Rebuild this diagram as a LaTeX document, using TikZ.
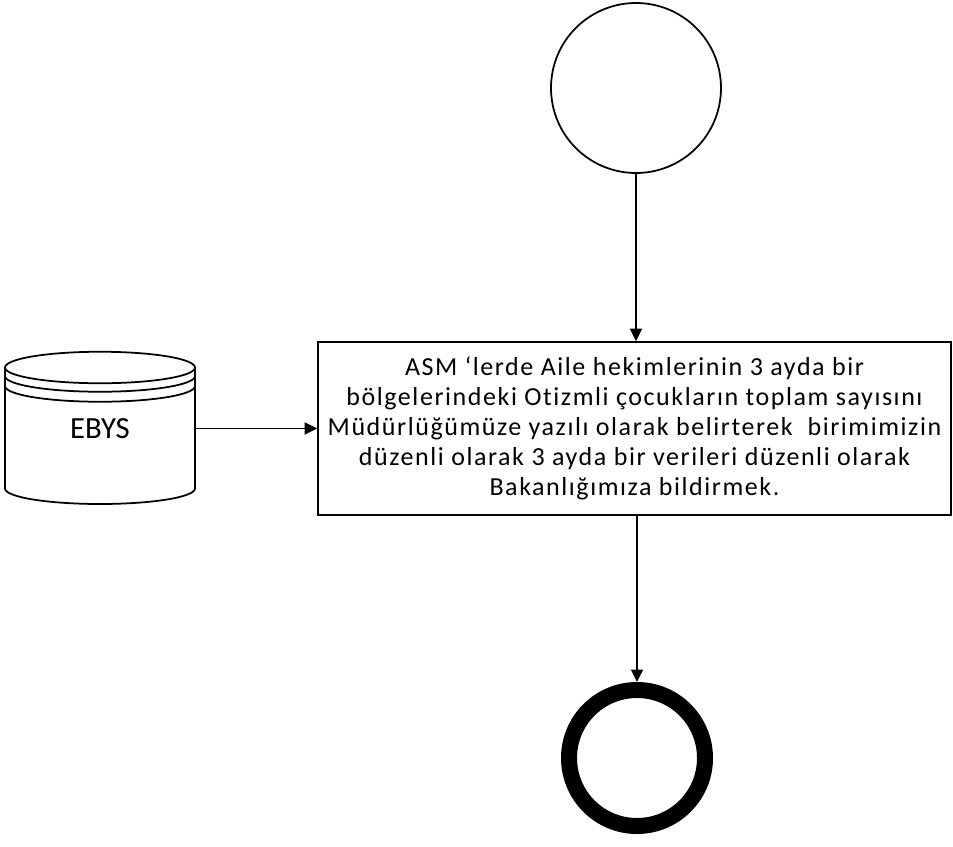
\documentclass[tikz,border=0pt]{standalone}
\usepackage{fontspec}
\setmainfont{Carlito}
\newfontfamily\boxfont[LetterSpace=6,Ligatures=NoCommon]{Carlito}
\usetikzlibrary{arrows.meta}
\begin{document}
\begin{tikzpicture}[line width=1pt,>={Triangle[length=0.25cm,width=0.24cm]},every node/.style={font=\fontsize{17.5}{21}\selectfont}]
\useasboundingbox (0,0) rectangle (19.06,-16.92);
\node[draw,circle,minimum size=3.4cm,inner sep=0pt] (start) at (12.72,-1.76) {};
\node[draw,align=center,minimum width=12.66cm,minimum height=3.46cm,inner sep=0pt,font=\boxfont\fontsize{14.8}{17}\selectfont] (act) at (12.69,-8.57) {ASM ‘lerde Aile hekimlerinin 3 ayda bir\\bölgelerindeki Otizmli çocukların toplam sayısını\\Müdürlüğümüze yazılı olarak belirterek \ birimimizin\\düzenli olarak 3 ayda bir verileri düzenli olarak\\Bakanlığımıza bildirmek.};
\node[draw,circle,line width=0.32cm,minimum size=2.72cm,inner sep=0pt] (stop) at (12.74,-15.16) {};
% EBYS database
\draw (0.1,-7.35) -- (0.1,-9.77) arc[start angle=180,end angle=360,x radius=1.9,y radius=0.31] -- (3.9,-7.35);
\draw (2.0,-7.35) ellipse[x radius=1.9,y radius=0.315];
\draw (0.1,-7.52) arc[start angle=180,end angle=360,x radius=1.9,y radius=0.315];
\draw (0.1,-7.72) arc[start angle=180,end angle=360,x radius=1.9,y radius=0.315];
\node[minimum width=3.8cm,inner sep=0pt] (db) at (2.0,-8.57) {EBYS};
\draw[->] (start.south) -- (start.south |- act.north);
\draw[->] (db) -- (act);
\draw[->] (act.south -| stop) -- (stop);
\end{tikzpicture}
\end{document}
